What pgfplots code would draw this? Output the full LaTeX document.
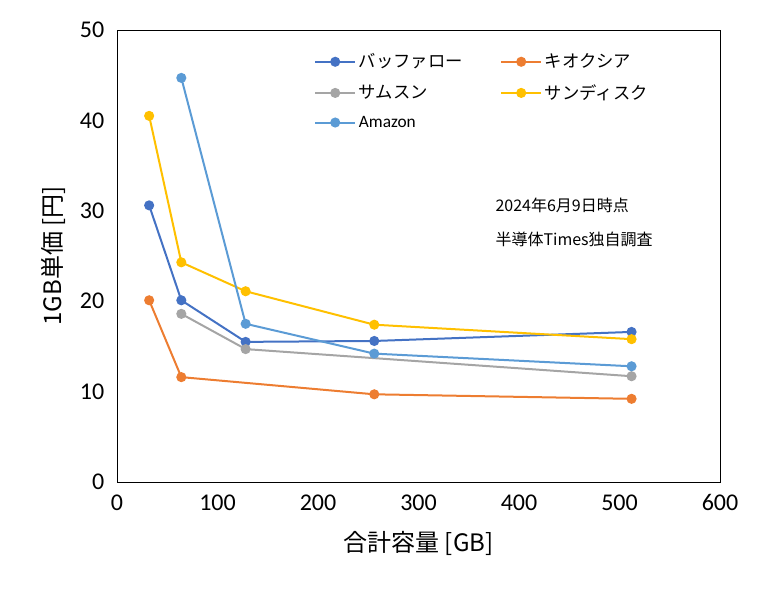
\documentclass[border=0pt]{standalone}
\usepackage{pgfplots}
\pgfplotsset{compat=1.18}
\usepackage{fontspec}
\setmainfont{Carlito}
\newfontfamily\jp{Noto Sans CJK JP}
\definecolor{c1}{HTML}{4472C4}
\definecolor{c2}{HTML}{ED7D31}
\definecolor{c3}{HTML}{A5A5A5}
\definecolor{c4}{HTML}{FFC000}
\definecolor{c5}{HTML}{5B9BD5}
\begin{document}
\begin{tikzpicture}[x=1pt,y=1pt]
\begin{axis}[name=ax, scale only axis, width=452.25pt, height=339pt,
  xmin=0,xmax=600,ymin=0,ymax=50, xtick={0,100,...,600}, ytick={0,10,...,50},
  tick style={draw=none}, axis line style={black},
  /pgf/number format/assume math mode=true,
  ticklabel style={font=\fontsize{18}{20}\selectfont},
  xticklabel style={yshift=-6pt}, yticklabel style={xshift=-6pt},
  xlabel={\jp 合計容量 [GB]}, ylabel={\jp 1GB単価 [円]},
  xlabel style={yshift=-8pt}, ylabel style={yshift=4pt},
  label style={font=\fontsize{18}{20}\selectfont},
  legend cell align=left,
  legend image code/.code={\draw[#1] (0pt,0pt) -- (30pt,0pt); \draw[#1,mark repeat=2,mark phase=2] plot coordinates {(0pt,0pt)(15pt,0pt)(30pt,0pt)};},
  legend style={draw=none, fill=none, at={(rel axis cs:0.32,0.96)}, anchor=north west,
    font=\jp\fontsize{13}{15}\selectfont, row sep=7pt, /tikz/every even column/.append style={column sep=26pt}},
  legend columns=2,
  every axis plot/.append style={line width=1.5pt, mark=*, mark size=3pt},
  clip=false]
\addplot[c1, mark options={fill=c1}] coordinates {(32,30.6)(64,20.1)(128,15.5)(256,15.6)(512,16.6)};
\addlegendentry{バッファロー}
\addplot[c2, mark options={fill=c2}] coordinates {(32,20.1)(64,11.6)(256,9.7)(512,9.2)};
\addlegendentry{キオクシア}
\addplot[c3, mark options={fill=c3}] coordinates {(64,18.6)(128,14.7)(512,11.7)};
\addlegendentry{サムスン}
\addplot[c4, mark options={fill=c4}] coordinates {(32,40.5)(64,24.3)(128,21.1)(256,17.4)(512,15.8)};
\addlegendentry{サンディスク}
\addplot[c5, mark options={fill=c5}] coordinates {(64,44.7)(128,17.5)(256,14.2)(512,12.8)};
\addlegendentry{\rmfamily\fontsize{13}{15}\selectfont Amazon}
\node[anchor=west,font=\jp\fontsize{12}{14}\selectfont] at (axis cs:372,30.6) {2024年6月9日時点};
\node[anchor=west,font=\jp\fontsize{12}{14}\selectfont] at (axis cs:372,26.8) {半導体Times独自調査};
\end{axis}
\path[use as bounding box] ([shift={(-87.75pt,-86.25pt)}]ax.south west) rectangle ([shift={(33.75pt,22.5pt)}]ax.north east);
\end{tikzpicture}
\end{document}
